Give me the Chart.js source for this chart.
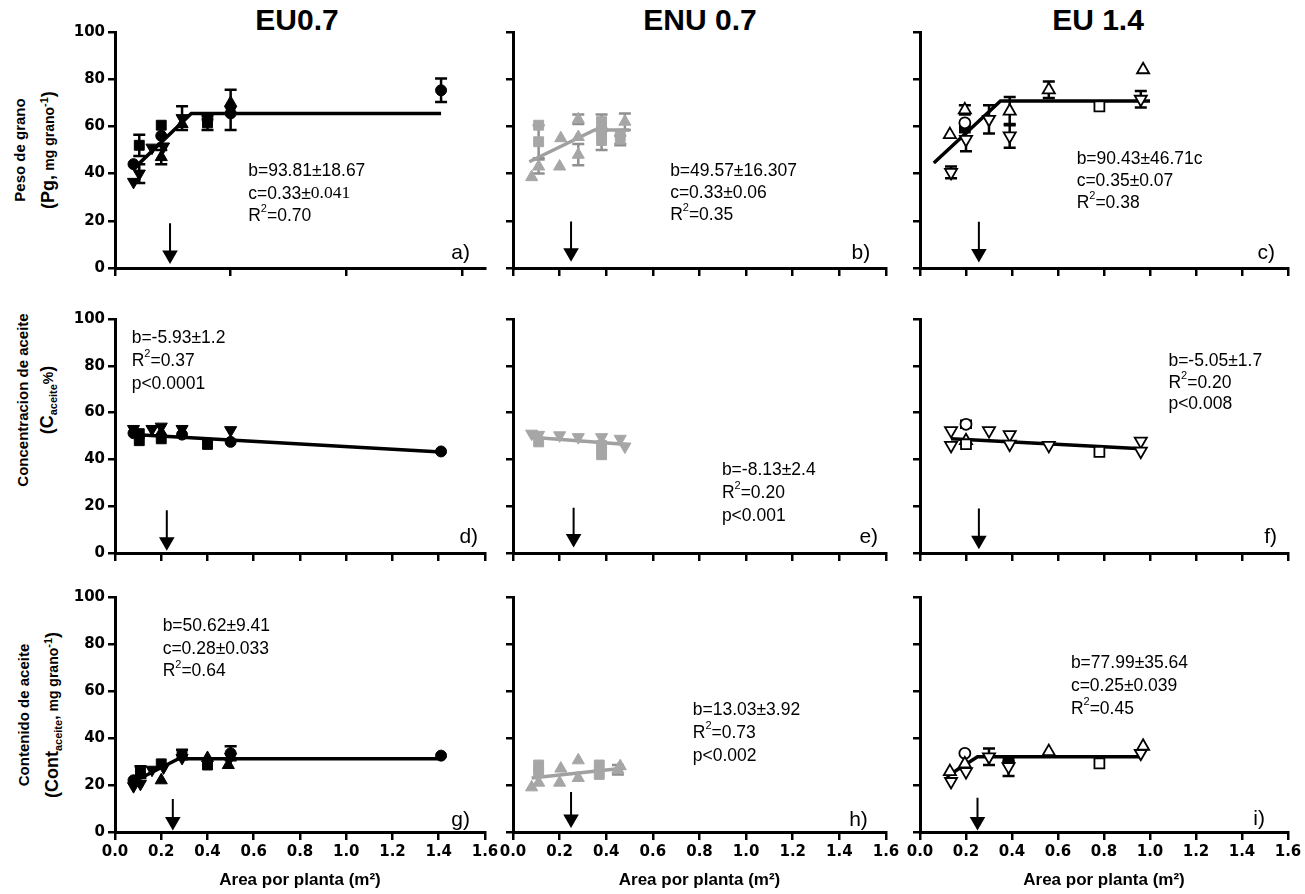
<!DOCTYPE html>
<html>
<head>
<meta charset="utf-8">
<script src="https://cdn.jsdelivr.net/npm/chart.js@4.4.1/dist/chart.umd.min.js"></script>
<style>
body { margin:0; background:#fff; width:1305px; height:894px; overflow:hidden; position:relative; font-family:"Liberation Sans", Arial, sans-serif; }
canvas { position:absolute; }
.col-tit { position:absolute; top:3px; width:300px; text-align:center; font-weight:bold; font-size:30px; }
.y-tit { position:absolute; width:300px; height:48px; line-height:24px; text-align:center; white-space:nowrap; font-weight:bold; font-size:15px; transform:rotate(-90deg); }
.y-tit .g { font-size:18px; }
.y-tit .p { font-size:14px; }
.y-tit sub, .y-tit sup { font-size:11px; }
</style>
</head>
<body>
<div class="col-tit" style="left:147px">EU0.7</div>
<div class="col-tit" style="left:550px">ENU 0.7</div>
<div class="col-tit" style="left:948px">EU 1.4</div>

<div class="y-tit" style="left:-118px;top:126px">Peso de grano<br><span class="g">(Pg,</span> <span class="p">mg grano<sup>-1</sup></span><span class="g">)</span></div>
<div class="y-tit" style="left:-115px;top:376px">Concentracion de aceite<br><span class="g">(C</span><sub>aceite</sub><span class="p">%</span><span class="g">)</span></div>
<div class="y-tit" style="left:-114px;top:691px">Contenido de aceite<br><span class="g">(Cont</span><sub>aceite</sub>, <span class="p">mg grano<sup>-1</sup></span><span class="g">)</span></div>

<script>
// ---- datos: [area m2, valor, error] ----
// Peso de grano (Pg)
const pgEU07_circ = [[0.08,44,0],[0.20,56,0],[0.40,63,0],[0.50,65.5,0],[1.41,75.3,5]];
const pgEU07_cuad = [[0.105,52,4.5],[0.20,60.5,0],[0.40,61.5,3]];
const pgEU07_tri  = [[0.20,47,3],[0.29,61,0],[0.50,70,0]];
const pgEU07_inv  = [[0.08,36.5,0],[0.105,40,4],[0.16,51,0],[0.21,51.5,0],[0.29,63.5,5],[0.50,67,8.5]];
const pgEU07_ajX  = [0.08, 0.33, 1.41];
const pgEU07_ajY  = [42, 65.5, 65.5];

const pgENU07_cuad = [[0.11,60.5,0],[0.11,53.5,7],[0.38,62,3],[0.38,54,4],[0.38,58,0],[0.46,56,0]];
const pgENU07_tri  = [[0.08,38.5,0],[0.11,43,3],[0.20,43,0],[0.205,55,0],[0.28,63,2],[0.28,48,4.5],[0.28,55.5,0],[0.46,54,2],[0.48,62,3.5]];
const pgENU07_ajX  = [0.07, 0.35, 0.50];
const pgENU07_ajY  = [45, 58.5, 58.5];

const pgEU14_tri  = [[0.13,56.5,0],[0.195,67,2],[0.39,66.5,6],[0.56,75.5,3.5],[0.97,84,0]];
const pgEU14_inv  = [[0.135,40.5,2.5],[0.20,54.5,5],[0.30,63,6],[0.39,56,5],[0.96,71.5,3.5]];
const pgEU14_circ = [[0.195,61.5,0]];
const pgEU14_cuad = [[0.78,68.5,0]];
const pgEU14_cuadLleno = [[0.195,59.5,0]];
const pgEU14_ajX  = [0.06, 0.35, 1.0];
const pgEU14_ajY  = [44.5, 70.8, 70.8];

// Concentracion de aceite (%)
const caEU07_circ = [[0.08,51.2,0],[0.29,50.6,0],[0.50,47.5,0],[1.41,43.4,0]];
const caEU07_cuad = [[0.105,48,0],[0.105,51,0],[0.20,48.8,0],[0.40,46.4,0]];
const caEU07_tri  = [[0.20,51.5,0]];
const caEU07_inv  = [[0.08,53,0],[0.16,53,0],[0.20,54,0],[0.29,53,0],[0.50,52.5,0]];
const caEU07_ajX  = [0.08, 1.41];
const caEU07_ajY  = [50.6, 43.2];

const caENU07_inv  = [[0.08,51,0],[0.11,50.5,0],[0.20,50.3,0],[0.28,49.5,0],[0.38,49.5,0],[0.46,48.8,0],[0.48,45.5,0]];
const caENU07_cuad = [[0.11,47.5,0],[0.38,42,0],[0.38,46,0]];
const caENU07_ajX  = [0.08, 0.49];
const caENU07_ajY  = [49.5, 46.4];

const caEU14_inv  = [[0.135,52.3,0],[0.135,46,0],[0.30,52.3,0],[0.39,50.6,0],[0.39,46.5,0],[0.56,46,0],[0.96,47.8,0],[0.96,43.5,0]];
const caEU14_circ = [[0.20,55,1.5]];
const caEU14_cuad = [[0.20,46.5,0],[0.78,43.2,0]];
const caEU14_tri  = [[0.20,48,0]];
const caEU14_ajX  = [0.135, 0.965];
const caEU14_ajY  = [48.8, 44.5];

// Contenido de aceite (mg grano-1)
const coEU07_circ = [[0.08,22,0],[0.50,33.5,3],[1.41,32.5,0]];
const coEU07_cuad = [[0.11,25.5,2.5],[0.20,29,0],[0.29,33,2],[0.40,28.5,0]];
const coEU07_tri  = [[0.20,22,0],[0.40,31.5,0],[0.49,28.5,0]];
const coEU07_inv  = [[0.08,19.5,0],[0.11,20.5,0],[0.16,26.5,0],[0.21,27.5,0],[0.29,31.5,0],[0.50,32,0]];
const coEU07_ajX  = [0.08, 0.275, 1.41];
const coEU07_ajY  = [21.4, 31.2, 31.2];

const coENU07_tri  = [[0.08,19,0],[0.11,21,0],[0.20,21,0],[0.205,27,0],[0.28,30.5,0],[0.28,23,0],[0.45,26.5,2],[0.46,28,0]];
const coENU07_cuad = [[0.11,28.5,0],[0.11,25.5,0],[0.37,28.5,0],[0.37,24.5,0]];
const coENU07_ajX  = [0.08, 0.48];
const coENU07_ajY  = [23, 27.2];

const coEU14_tri  = [[0.13,25.7,0],[0.195,29,0],[0.56,34.2,0],[0.97,36.5,0]];
const coEU14_inv  = [[0.135,21.5,0],[0.20,25.7,0],[0.30,32,3.5],[0.385,27.8,4],[0.96,33.5,0]];
const coEU14_circ = [[0.195,33.5,0]];
const coEU14_circLleno = [[0.385,30,0]];
const coEU14_cuad = [[0.78,29.2,0]];
const coEU14_ajX  = [0.115, 0.25, 0.965];
const coEU14_ajY  = [23.5, 32, 32];

// flechas: x, inicio, punta
const flechaX     = [0.238, 0.249, 0.256, 0.224, 0.26, 0.256, 0.25, 0.249, 0.25];
const flechaTope  = [19, 19.7, 19.6, 18.3, 19.3, 19, 14, 17, 14.6];
const flechaPunta = [2, 3, 2.6, 1.3, 2.7, 2, 1, 2, 1];

const xTicks = [0, 0.2, 0.4, 0.6, 0.8, 1.0, 1.2, 1.4, 1.6];
const yTicks = [0, 20, 40, 60, 80, 100];

// ---- geometria ----
const colEje = [115, 513, 920];
const colAncho = [370, 373, 368];
const colDer = [20, 20, 17];
const filaTope = [32, 319, 597];
const filaAlto = [236, 234, 235];

const paneles = [
  { fila:0, col:0, modo:'negro', series:[['circ',pgEU07_circ],['cuad',pgEU07_cuad],['tri',pgEU07_tri],['inv',pgEU07_inv]], ajX:pgEU07_ajX, ajY:pgEU07_ajY,
    notas:{x:0.576, y:41, paso:22.5, lineas:['b=93.81±18.67','c=0.33±{~0.041}','R{^2}=0.70']}, letra:['a)',1.535,6.4], paso:0.5 },
  { fila:0, col:1, modo:'gris', series:[['cuad',pgENU07_cuad],['tri',pgENU07_tri]], ajX:pgENU07_ajX, ajY:pgENU07_ajY,
    notas:{x:0.674, y:41, paso:22, lineas:['b=49.57±16.307','c=0.33±0.06','R{^2}=0.35']}, letra:['b)',1.532,6.4] },
  { fila:0, col:2, modo:'abierto', series:[['tri',pgEU14_tri],['inv',pgEU14_inv],['circ',pgEU14_circ],['cuad',pgEU14_cuad],['cuadLleno',pgEU14_cuadLleno]], ajX:pgEU14_ajX, ajY:pgEU14_ajY,
    notas:{x:0.681, y:46, paso:22, lineas:['b=90.43±46.71c','c=0.35±0.07','R{^2}=0.38']}, letra:['c)',1.543,6.4] },
  { fila:1, col:0, modo:'negro', series:[['circ',caEU07_circ],['cuad',caEU07_cuad],['tri',caEU07_tri],['inv',caEU07_inv]], ajX:caEU07_ajX, ajY:caEU07_ajY,
    notas:{x:0.072, y:92, paso:23, lineas:['b=-5.93±1.2','R{^2}=0.37','p<0.0001']}, letra:['d)',1.57,6.8] },
  { fila:1, col:1, modo:'gris', series:[['inv',caENU07_inv],['cuad',caENU07_cuad]], ajX:caENU07_ajX, ajY:caENU07_ajY,
    notas:{x:0.896, y:35.3, paso:23, lineas:['b=-8.13±2.4','R{^2}=0.20','p<0.001']}, letra:['e)',1.566,6.8] },
  { fila:1, col:2, modo:'abierto', series:[['inv',caEU14_inv],['circ',caEU14_circ],['cuad',caEU14_cuad],['tri',caEU14_tri]], ajX:caEU14_ajX, ajY:caEU14_ajY,
    notas:{x:1.08, y:82, paso:21.7, lineas:['b=-5.05±1.7','R{^2}=0.20','p<0.008']}, letra:['f)',1.552,6.8] },
  { fila:2, col:0, modo:'negro', series:[['circ',coEU07_circ],['cuad',coEU07_cuad],['tri',coEU07_tri],['inv',coEU07_inv]], ajX:coEU07_ajX, ajY:coEU07_ajY,
    notas:{x:0.206, y:87.4, paso:22.5, lineas:['b=50.62±9.41','c=0.28±0.033','R{^2}=0.64']}, letra:['g)',1.535,5.1] },
  { fila:2, col:1, modo:'gris', series:[['tri',coENU07_tri],['cuad',coENU07_cuad]], ajX:coENU07_ajX, ajY:coENU07_ajY,
    notas:{x:0.771, y:51.9, paso:23, lineas:['b=13.03±3.92','R{^2}=0.73','p<0.002']}, letra:['h)',1.522,5.1] },
  { fila:2, col:2, modo:'abierto', series:[['tri',coEU14_tri],['inv',coEU14_inv],['circ',coEU14_circ],['circLleno',coEU14_circLleno],['cuad',coEU14_cuad]], ajX:coEU14_ajX, ajY:coEU14_ajY,
    notas:{x:0.656, y:71.8, paso:23, lineas:['b=77.99±35.64','c=0.25±0.039','R{^2}=0.45']}, letra:['i)',1.50,5.5] }
];

const GRIS = '#a6a6a6';
const marcas = {
  circ: { pointStyle:'circle', radius:5.5, rotation:0 },
  cuad: { pointStyle:'rect', radius:7, rotation:0 },
  tri:  { pointStyle:'triangle', radius:7, rotation:0 },
  inv:  { pointStyle:'triangle', radius:7, rotation:180 }
};

// texto con ^{sup} y ~{serif}
function textoRico(ctx, txt, x, y, size) {
  const partes = txt.split(/(\{[\^~][^}]*\})/).filter(s => s.length);
  let cx = x;
  partes.forEach(p => {
    let font = size + 'px "Liberation Sans", Arial, sans-serif', dy = 0, t = p;
    if (p.startsWith('{^')) { t = p.slice(2, -1); font = Math.round(size * 0.65) + 'px "Liberation Sans", Arial, sans-serif'; dy = -size * 0.4; }
    else if (p.startsWith('{~')) { t = p.slice(2, -1); font = size + 'px "Liberation Serif", "Times New Roman", serif'; }
    ctx.font = font;
    ctx.fillText(t, cx, y + dy);
    cx += ctx.measureText(t).width;
  });
}

const barrasError = {
  id: 'barrasError',
  beforeDatasetsDraw(chart) {
    const { ctx, scales: { x, y } } = chart;
    chart.data.datasets.forEach(ds => {
      if (!ds.errores) return;
      ctx.save();
      ctx.strokeStyle = ds.colorBarra;
      ctx.lineWidth = 2.5;
      ds.data.forEach((p, j) => {
        const e = ds.errores[j];
        if (!e) return;
        const px = x.getPixelForValue(p.x);
        const y1 = y.getPixelForValue(p.y + e), y2 = y.getPixelForValue(p.y - e);
        ctx.beginPath();
        ctx.moveTo(px, y1); ctx.lineTo(px, y2);
        ctx.moveTo(px - 6, y1); ctx.lineTo(px + 6, y1);
        ctx.moveTo(px - 6, y2); ctx.lineTo(px + 6, y2);
        ctx.stroke();
      });
      ctx.restore();
    });
  }
};

const notas = {
  id: 'notas',
  afterDraw(chart, args, opts) {
    const { ctx, scales: { x, y } } = chart;
    ctx.save();
    ctx.fillStyle = '#000';
    ctx.textBaseline = 'middle';
    ctx.textAlign = 'left';
    const x0 = x.getPixelForValue(opts.x), y0 = y.getPixelForValue(opts.y);
    opts.lineas.forEach((l, i) => textoRico(ctx, l, x0, y0 + i * opts.paso, 17.5));
    ctx.font = '21px "Liberation Sans", Arial, sans-serif';
    ctx.textAlign = 'right';
    ctx.fillText(opts.letra[0], x.getPixelForValue(opts.letra[1]), y.getPixelForValue(opts.letra[2]));
    ctx.restore();
  }
};

Chart.defaults.font.family = '"Liberation Sans", Arial, sans-serif';
Chart.defaults.color = '#000';

paneles.forEach((pn, i) => {
  const { fila, col, modo } = pn;
  const abajo = fila === 2;
  const altoX = abajo ? 62 : 14;
  const cv = document.createElement('canvas');
  cv.width = 50 + colAncho[col] + colDer[col];
  cv.height = 15 + filaAlto[fila] + altoX;
  cv.style.left = (colEje[col] - 50) + 'px';
  cv.style.top = (filaTope[fila] - 15) + 'px';
  document.body.appendChild(cv);

  const datasets = pn.series.map(([tipo, pts]) => {
    const lleno = tipo.endsWith('Lleno');
    const m = marcas[tipo.replace('Lleno', '')];
    let fondo = '#000', borde = '#000';
    if (modo === 'gris') { fondo = GRIS; borde = GRIS; }
    if (modo === 'abierto' && !lleno) fondo = '#fff';
    return {
      data: pts.map(p => ({ x: p[0], y: p[1] })),
      errores: pts.map(p => p[2]),
      colorBarra: modo === 'gris' ? '#909090' : '#000',
      pointStyle: m.pointStyle,
      pointRadius: m.radius,
      rotation: m.rotation,
      backgroundColor: fondo,
      borderColor: borde,
      borderWidth: modo === 'abierto' ? 1.8 : 1,
      showLine: false
    };
  });

  datasets.push({
    data: pn.ajX.map((v, k) => ({ x: v, y: pn.ajY[k] })),
    showLine: true,
    borderColor: modo === 'gris' ? '#a0a0a0' : '#000',
    borderWidth: 3.5,
    pointRadius: 0
  });

  datasets.push({
    data: [{ x: flechaX[i], y: flechaTope[i] }, { x: flechaX[i], y: flechaPunta[i] + 3.5 }],
    showLine: true,
    borderColor: '#000',
    borderWidth: 2,
    backgroundColor: '#000',
    pointStyle: 'triangle',
    rotation: 180,
    pointRadius: [0, 9],
    pointBorderWidth: 0
  });

  new Chart(cv, {
    type: 'scatter',
    data: { datasets },
    plugins: [barrasError, notas],
    options: {
      responsive: false,
      animation: false,
      events: [],
      layout: { padding: { top: 15, right: colDer[col], left: 0, bottom: 0 } },
      plugins: {
        legend: { display: false },
        tooltip: { enabled: false },
        notas: { x: pn.notas.x, y: pn.notas.y, paso: pn.notas.paso, lineas: pn.notas.lineas, letra: pn.letra }
      },
      scales: {
        x: {
          type: 'linear', min: 0, max: 1.6,
          afterBuildTicks: s => { s.ticks = (pn.paso ? [0, 0.5, 1.0, 1.5] : xTicks).map(v => ({ value: v })); },
          afterFit: s => { s.height = altoX; },
          ticks: {
            display: abajo, padding: 3, color: '#000',
            font: { family: '"DejaVu Sans", sans-serif', weight: 'bold', size: 15 },
            callback: v => v.toFixed(1)
          },
          grid: { drawOnChartArea: false, drawTicks: true, tickLength: 8, color: '#000', lineWidth: 2.5 },
          border: { display: true, color: '#000', width: 3 },
          title: {
            display: abajo, text: 'Area por planta (m²)', color: '#000',
            font: { weight: 'bold', size: 17 }, padding: { top: 0, bottom: 3 }
          }
        },
        y: {
          min: 0, max: 100,
          afterBuildTicks: s => { s.ticks = yTicks.map(v => ({ value: v })); },
          afterFit: s => { s.width = 50; },
          ticks: {
            display: col === 0, padding: 3, color: '#000',
            font: { family: '"DejaVu Sans", sans-serif', weight: 'bold', size: 15 }
          },
          grid: { drawOnChartArea: false, drawTicks: true, tickLength: 7, color: '#000', lineWidth: 2.5 },
          border: { display: true, color: '#000', width: 3 }
        }
      }
    }
  });
});
</script>
</body>
</html>
